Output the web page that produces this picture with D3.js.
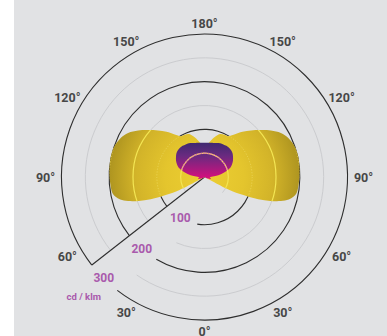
<!DOCTYPE html>
<html><head><meta charset="utf-8">
<script src="https://cdn.jsdelivr.net/npm/d3@7"></script>
<style>html,body{margin:0;padding:0;background:#fff;overflow:hidden}</style>
</head><body><svg id="chart" width="387" height="336"></svg>
<script>
// ---- data (cd/klm vs. gamma angle, 0° = down, 180° = up) ----
const gammaAngles = [0,10,20,30,40,50,55,60,62.5,65,67.5,70,72.5,75,77.5,80,85,90,95,100,105,110,115,120,125,130,135,140,145,150,155,160,165,170,175,180];
const planeC90 = [0,0,0,0,0,0,0,0,59,88,122,147,168,183,191,196,198,199,200,201,201,199,194,185,170,153,138,124,109,99,98,96,88,78,69,65];
const planeC0  = [0,0,0,0,0,0,2,4,6,8,10,12,13,14,14,13,11,13,23,36,48,58,64,69,73,77,79,80,80,79,78,76,74,73,72,72];
const ringValues = [50,100,150,200,250,300];
const majorRings = [100,200,300];
const ringLabels = ["100","200","300"];
const angleTicks = [0,30,60,90,120,150,180];
const unitLabel = "cd / klm";

// ---- layout ----
const W = 387, H = 336, cx = 204.5, cy = 177, R = 143;
const svg = d3.select("#chart");
const rad = d => d * Math.PI / 180;
const r = d3.scaleLinear().domain([0, 300]).range([0, R]);
const axisGamma = 52;      // gamma of the radial value axis (left side)
const gapPx = 36;

svg.append("rect").attr("x", 14).attr("y", 0).attr("width", W - 14).attr("height", H).attr("fill", "#e1e2e4");

const defs = svg.append("defs");
const yg = defs.append("radialGradient").attr("id", "yg").attr("gradientUnits", "userSpaceOnUse")
  .attr("cx", 0).attr("cy", 0).attr("r", r(205));
[[0, "#ecce33"], [0.4, "#e4c52d"], [0.7, "#d3b429"], [1, "#ab921f"]].forEach(([o, c]) =>
  yg.append("stop").attr("offset", o).attr("stop-color", c));
const pg = defs.append("linearGradient").attr("id", "pg").attr("gradientUnits", "userSpaceOnUse")
  .attr("x1", 0).attr("x2", 0).attr("y1", -r(80)).attr("y2", 0);
[[0, "#33296c"], [0.45, "#6a2a80"], [1, "#cf107e"]].forEach(([o, c]) =>
  pg.append("stop").attr("offset", o).attr("stop-color", c));

const g = svg.append("g").attr("transform", `translate(${cx},${cy})`);

// ring with a gap next to the value axis
function ringPath(v) {
  const rr = r(v);
  const gp = v === 50 ? 42 : gapPx;
  const gEnd = axisGamma - (gp / rr) * 180 / Math.PI;
  const p = d3.path();
  p.arc(0, 0, rr, rad(90 + axisGamma), rad(360 + 90 + gEnd));
  return p.toString();
}
function fullRing(v) {
  const p = d3.path();
  p.arc(0, 0, r(v), 0, 2 * Math.PI);
  return p.toString();
}

// grid
g.selectAll("path.ring").data(ringValues).join("path").attr("class", "ring")
  .attr("d", ringPath).attr("fill", "none")
  .attr("stroke", d => majorRings.includes(d) ? "#2e2e2e" : "#cbcccf")
  .attr("stroke-width", d => majorRings.includes(d) ? 1.1 : 1);
g.append("line")
  .attr("x1", 0).attr("y1", 0)
  .attr("x2", -r(300) * Math.sin(rad(axisGamma))).attr("y2", r(300) * Math.cos(rad(axisGamma)))
  .attr("stroke", "#2e2e2e").attr("stroke-width", 1.1);

// build closed polar curve: left side gamma 0..180, right side 180..0
function polarPts(vals) {
  const pts = [];
  gammaAngles.forEach((gm, i) => pts.push([Math.PI + rad(gm), r(vals[i])]));
  for (let i = gammaAngles.length - 2; i >= 1; i--) pts.push([3 * Math.PI - rad(gammaAngles[i]), r(vals[i])]);
  return pts;
}
const radial = d3.lineRadial().angle(d => d[0]).radius(d => d[1]).curve(d3.curveCatmullRomClosed.alpha(0.5));

const yPath = radial(polarPts(planeC90));
const pPath = radial(polarPts(planeC0));
defs.append("clipPath").attr("id", "cy").append("path").attr("d", yPath).attr("transform", `translate(${cx},${cy})`);
defs.append("clipPath").attr("id", "cp").append("path").attr("d", pPath).attr("transform", `translate(${cx},${cy})`);

g.append("path").attr("d", yPath).attr("fill", "url(#yg)");
const yl = svg.append("g").attr("clip-path", "url(#cy)").append("g").attr("transform", `translate(${cx},${cy})`);
yl.selectAll("path").data(ringValues).join("path").attr("d", fullRing).attr("fill", "none")
  .attr("stroke", d => majorRings.includes(d) ? "#efdc62" : "#f3e553")
  .attr("stroke-width", d => majorRings.includes(d) ? 1 : 1.2)
  .attr("stroke-dasharray", d => majorRings.includes(d) ? "1.2,1.6" : null)
  .attr("opacity", d => majorRings.includes(d) ? 0.7 : 1);

g.append("path").attr("d", pPath).attr("fill", "url(#pg)");
const pl = svg.append("g").attr("clip-path", "url(#cp)").append("g").attr("transform", `translate(${cx},${cy})`);
pl.selectAll("path").data([50]).join("path").attr("d", fullRing).attr("fill", "none")
  .attr("stroke", "#e066b4").attr("stroke-width", 1.2).attr("stroke-dasharray", "1.5,1");

// angle labels
const font = "Roboto, 'DejaVu Sans', sans-serif";
const angleLab = [];
angleTicks.forEach(a => {
  angleLab.push({ a, side: -1 });
  if (a !== 0 && a !== 180) angleLab.push({ a, side: 1 });
});
g.selectAll("text.ang").data(angleLab).join("text").attr("class", "ang")
  .attr("x", d => d.side * (154 + 5 * Math.sin(rad(d.a))) * Math.sin(rad(d.a)))
  .attr("y", d => (154 + 5 * Math.sin(rad(d.a))) * Math.cos(rad(d.a)))
  .attr("text-anchor", "middle").attr("dominant-baseline", "central")
  .attr("font-family", font).attr("font-weight", 700).attr("font-size", 12.5)
  .attr("fill", "#474747").text(d => d.a + "°");

// value labels in ring gaps
const labG = majorRings.map(v => axisGamma - (gapPx / 2 / r(v)) * 180 / Math.PI);
g.selectAll("text.val").data(majorRings).join("text").attr("class", "val")
  .attr("x", (d, i) => -r(d) * Math.sin(rad(labG[i])))
  .attr("y", (d, i) => r(d) * Math.cos(rad(labG[i])))
  .attr("text-anchor", "middle").attr("dominant-baseline", "central")
  .attr("font-family", font).attr("font-weight", 700).attr("font-size", 12)
  .attr("fill", "#a95aac").text((d, i) => ringLabels[i]);
g.append("text")
  .attr("x", -r(300) * Math.sin(rad(labG[2])) - 20)
  .attr("y", r(300) * Math.cos(rad(labG[2])) + 17.6)
  .attr("text-anchor", "middle").attr("dominant-baseline", "central")
  .attr("font-family", font).attr("font-weight", 700).attr("font-size", 9.5)
  .attr("fill", "#a95aac").text(unitLabel);
</script></body></html>
